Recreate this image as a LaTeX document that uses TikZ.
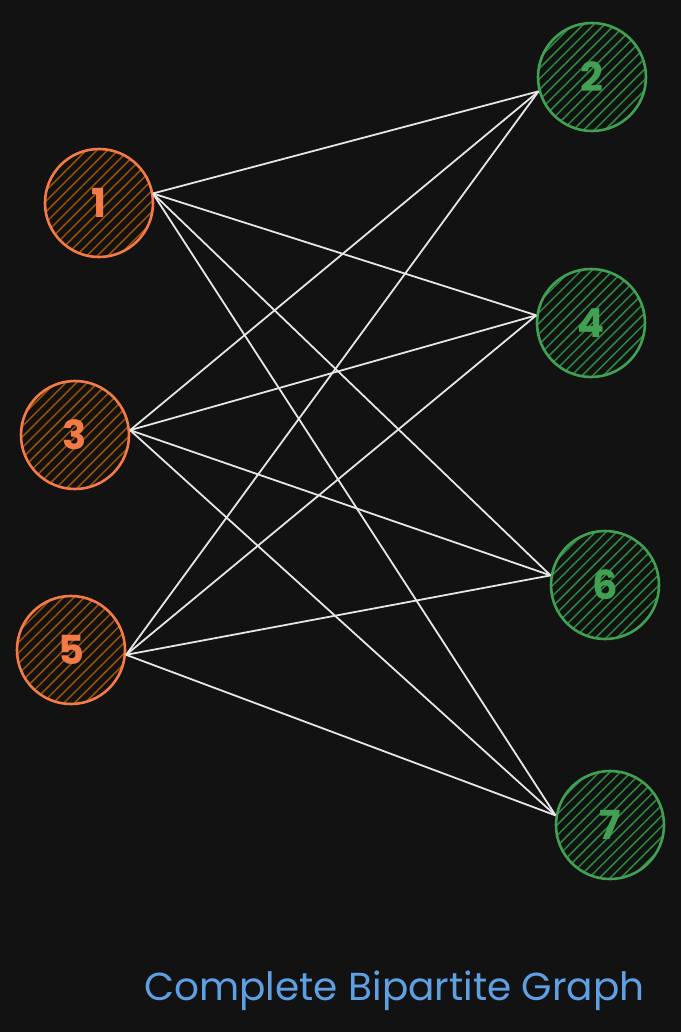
\documentclass[tikz,border=0pt]{standalone}
\usepackage{fontspec}
\setmainfont{Poppins}
\usetikzlibrary{patterns.meta}
\definecolor{bg}{HTML}{121212}
\definecolor{orstroke}{HTML}{F47B47}
\definecolor{orhatch}{HTML}{9A5200}
\definecolor{grstroke}{HTML}{41A152}
\definecolor{grhatch}{HTML}{2B8A3E}
\definecolor{edgecol}{HTML}{E6E6E6}
\definecolor{titlecol}{HTML}{5EA0E4}
\tikzset{
  vert/.style={circle, minimum size=108pt, inner sep=0pt, line width=2.6pt, font=\fontsize{40}{40}\selectfont\bfseries},
  leftv/.style={vert, draw=orstroke, text=orstroke, pattern={Lines[angle=45,distance=7.5pt,line width=1.5pt]}, pattern color=orhatch},
  rightv/.style={vert, draw=grstroke, text=grstroke, pattern={Lines[angle=45,distance=7.5pt,line width=1.5pt]}, pattern color=grhatch},
  edge/.style={draw=edgecol, line width=1.8pt},
}
\begin{document}
\begin{tikzpicture}[x=1pt,y=-1pt]
\fill[bg] (0,0) rectangle (681,1032);
\useasboundingbox (0,0) rectangle (681,1032);
\node[leftv] (n1) at (99,203) {1};
\node[leftv] (n3) at (75,435) {3};
\node[leftv] (n5) at (71,650) {5};
\node[rightv] (n2) at (592,77) {2};
\node[rightv] (n4) at (591,323) {4};
\node[rightv] (n6) at (605,585) {6};
\node[rightv] (n7) at (610,825) {7};
\foreach \a/\aa in {n1/10,n3/5,n5/-5}{
  \foreach \b/\bb in {n2/195,n4/172,n6/170,n7/170}{
    \draw[edge] (\a.\aa) -- (\b.\bb);
  }
}
\node[text=titlecol, font=\fontsize{39}{39}\selectfont\mdseries, anchor=base east] (title) at (648,1000) {Complete Bipartite Graph};
\end{tikzpicture}
\end{document}
